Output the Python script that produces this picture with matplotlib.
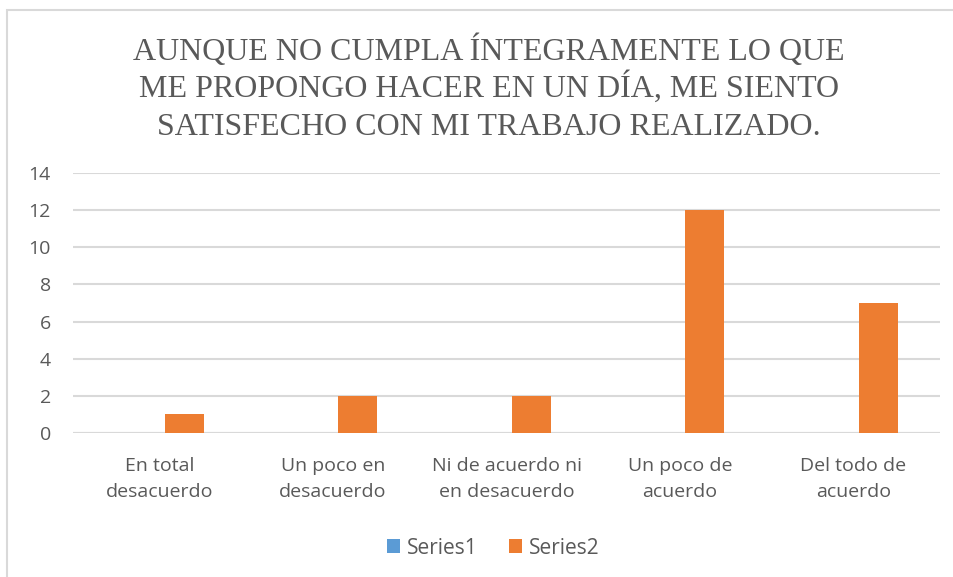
import numpy as np
from matplotlib import pyplot as plt
from matplotlib.patches import Rectangle

# data
categories = ["En total\ndesacuerdo", "Un poco en\ndesacuerdo", "Ni de acuerdo ni\nen desacuerdo",
              "Un poco de\nacuerdo", "Del todo de\nacuerdo"]
series1 = [0, 0, 0, 0, 0]
series2 = [1, 2, 2, 12, 7]
yticks = [0, 2, 4, 6, 8, 10, 12, 14]
title_lines = ["AUNQUE NO CUMPLA ÍNTEGRAMENTE LO QUE",
               "ME PROPONGO HACER EN UN DÍA, ME SIENTO",
               "SATISFECHO CON MI TRABAJO REALIZADO."]

text_color = "#595959"
grid_color = "#D9D9D9"
blue, orange = "#5B9BD5", "#ED7D31"

plt.rcParams['font.family'] = ['Open Sans', 'DejaVu Sans']

fig = plt.figure(figsize=(9.54, 5.77), dpi=100)
ax = fig.add_axes([73/954, 1 - 433/577, (940 - 73)/954, (433 - 173)/577])

x = np.arange(len(categories))
w = 0.225          # bar width (category = 1)
gap = 0.27 * w     # excel-style overlap -27%
ax.bar(x - (w + gap)/2, series1, w, color=blue, label="Series1", zorder=3)
ax.bar(x + (w + gap)/2, series2, w, color=orange, label="Series2", zorder=3)

ax.set_xlim(-0.5, len(categories) - 0.5)
ax.set_ylim(0, 14)
ax.set_yticks(yticks)
ax.yaxis.grid(True, color=grid_color, linewidth=1.5, zorder=0)
for s in ax.spines.values():
    s.set_visible(False)
ax.axhline(0, color=grid_color, linewidth=1.5, zorder=2)
ax.tick_params(axis='both', length=0, colors=text_color, labelsize=14)
ax.tick_params(axis='y', pad=16)
ax.tick_params(axis='x', pad=17)
ax.set_xticks(x)
ax.set_xticklabels(categories, linespacing=1.62)

# title, one text per line so the baselines stay evenly spaced
for line, base in zip(title_lines, [60, 97, 135]):
    fig.text(489/954, 1 - base/577, line, ha='center', va='baseline', fontsize=23,
             fontfamily=['Liberation Serif', 'DejaVu Serif'], color=text_color)

ax.legend(loc='center', bbox_to_anchor=(493/954, 1 - 548/577), bbox_transform=fig.transFigure,
          ncol=2, frameon=False, fontsize=15, labelcolor=text_color,
          handlelength=0.65, handleheight=0.65, handletextpad=0.3, columnspacing=1.5)

fig.patches.append(Rectangle((7/954, -0.05), 1.2, 1.05 - 10/577, transform=fig.transFigure,
                             fill=False, edgecolor=grid_color, linewidth=1.5))

fig.savefig("out.png", dpi=100)
